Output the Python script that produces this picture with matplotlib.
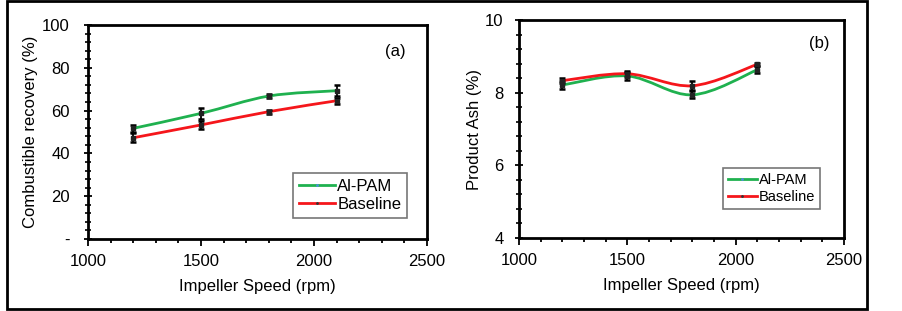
import matplotlib
matplotlib.use("Agg")
import matplotlib.pyplot as plt
from matplotlib.path import Path
from matplotlib.patches import PathPatch, Rectangle
from matplotlib.lines import Line2D
from matplotlib.ticker import MultipleLocator, FixedLocator, FixedFormatter

plt.rcParams['font.family'] = ['Liberation Sans', 'DejaVu Sans']

speed = [1200, 1500, 1800, 2100]

rec_alpam = [51.7, 58.7, 66.8, 69.3]
rec_alpam_err = [1.5, 2.5, 1.0, 2.5]
rec_base = [47.3, 53.3, 59.5, 64.6]
rec_base_err = [2.0, 2.0, 1.0, 1.5]

ash_alpam = [8.21, 8.46, 7.94, 8.63]
ash_alpam_err = [0.12, 0.12, 0.10, 0.10]
ash_base = [8.33, 8.52, 8.19, 8.78]
ash_base_err = [0.06, 0.08, 0.12, 0.05]

rec_ticks = [0, 20, 40, 60, 80, 100]
rec_ticklabels = ['-', '20', '40', '60', '80', '100']
ash_ticks = [4, 6, 8, 10]
x_ticks = [1000, 1500, 2000, 2500]

GREEN = '#1fb14f'
RED = '#f5161b'


def smooth_path(xs, ys):
    verts = [(xs[0], ys[0])]
    codes = [Path.MOVETO]
    n = len(xs)
    for i in range(n - 1):
        p0 = (xs[max(i - 1, 0)], ys[max(i - 1, 0)])
        p1 = (xs[i], ys[i])
        p2 = (xs[i + 1], ys[i + 1])
        p3 = (xs[min(i + 2, n - 1)], ys[min(i + 2, n - 1)])
        c1 = (p1[0] + (p2[0] - p0[0]) / 6, p1[1] + (p2[1] - p0[1]) / 6)
        c2 = (p2[0] - (p3[0] - p1[0]) / 6, p2[1] - (p3[1] - p1[1]) / 6)
        verts += [c1, c2, p2]
        codes += [Path.CURVE4] * 3
    return Path(verts, codes)


fig = plt.figure(figsize=(9.03, 3.11), dpi=100)
fig.patches.append(Rectangle((7 / 903, 1 - 309 / 311), (867 - 7) / 903, (309 - 1) / 311,
                             transform=fig.transFigure, fill=False, edgecolor='black',
                             linewidth=2, zorder=0))

ax1 = fig.add_axes([88 / 903, 1 - 239 / 311, (427 - 88) / 903, (239 - 25) / 311])
ax2 = fig.add_axes([519 / 903, 1 - 238 / 311, (844 - 519) / 903, (238 - 20) / 311])


def draw(ax, a, ae, b, be):
    for vals, errs, col in [(a, ae, GREEN), (b, be, RED)]:
        ax.add_patch(PathPatch(smooth_path(speed, vals), facecolor='none', edgecolor=col,
                               linewidth=2, zorder=2))
        ax.errorbar(speed, vals, yerr=errs, fmt='none', ecolor='black', elinewidth=1.3,
                    capsize=2.5, capthick=1.8, zorder=3)
        ax.plot(speed, vals, linestyle='none', marker='s', markersize=3, color='#222222', zorder=4)


draw(ax1, rec_alpam, rec_alpam_err, rec_base, rec_base_err)
draw(ax2, ash_alpam, ash_alpam_err, ash_base, ash_base_err)

legend_sizes = [12, 10.5]
legend_anchor = [(0.941, 0.098), (0.926, 0.133)]
legend_handlelen = [2.2, 2.0]

for k, ax in enumerate((ax1, ax2)):
    ax.set_xlim(1000, 2500)
    ax.xaxis.set_major_locator(FixedLocator(x_ticks))
    ax.xaxis.set_minor_locator(MultipleLocator(100))
    for s in ax.spines.values():
        s.set_linewidth(2)
    ax.tick_params(axis='x', which='major', direction='out', length=5, width=1.3,
                   labelsize=12, pad=6)
    ax.tick_params(axis='x', which='minor', direction='out', length=3, width=1.3)
    ax.tick_params(axis='y', which='major', direction='inout', length=6, width=1.3,
                   labelsize=12)
    ax.tick_params(axis='y', which='minor', direction='inout', length=4, width=1.2)
    ax.set_xlabel('Impeller Speed (rpm)', fontsize=12, labelpad=7)
    handles = [Line2D([], [], color=GREEN, linewidth=2, marker='.', markersize=2,
                      markerfacecolor='#4a90d9', markeredgecolor='#4a90d9'),
               Line2D([], [], color=RED, linewidth=2, marker='.', markersize=2,
                      markerfacecolor='#333333', markeredgecolor='#333333')]
    leg = ax.legend(handles, ['Al-PAM', 'Baseline'], loc='lower right',
                    bbox_to_anchor=legend_anchor[k], fontsize=legend_sizes[k], frameon=True,
                    fancybox=False, handlelength=legend_handlelen[k], handletextpad=0.1,
                    borderpad=0.35, labelspacing=0.2, borderaxespad=0)
    leg.get_frame().set_edgecolor('#555555')
    leg.get_frame().set_linewidth(1.2)

ax1.set_ylim(0, 100)
ax1.yaxis.set_major_locator(FixedLocator(rec_ticks))
ax1.yaxis.set_major_formatter(FixedFormatter(rec_ticklabels))
ax1.yaxis.set_minor_locator(MultipleLocator(4))
ax1.tick_params(axis='y', pad=10)
ax1.set_ylabel('Combustible recovery (%)', fontsize=12, labelpad=3)
ax1.text(0.906, 0.874, '(a)', transform=ax1.transAxes, fontsize=12, ha='center', va='center')

ax2.set_ylim(4, 10)
ax2.yaxis.set_major_locator(FixedLocator(ash_ticks))
ax2.yaxis.set_minor_locator(MultipleLocator(0.4))
ax2.tick_params(axis='y', pad=8)
ax2.set_ylabel('Product Ash (%)', fontsize=12, labelpad=2)
ax2.text(0.923, 0.89, '(b)', transform=ax2.transAxes, fontsize=12, ha='center', va='center')

fig.savefig('out.png', dpi=100)
